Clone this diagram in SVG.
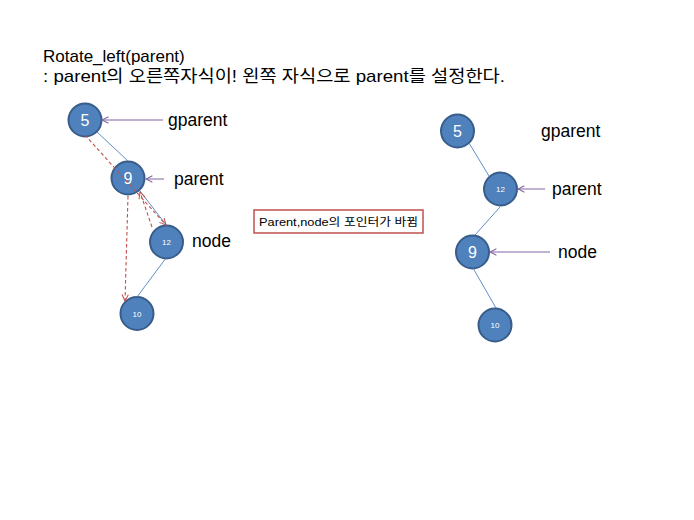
<svg xmlns="http://www.w3.org/2000/svg" width="694" height="520" viewBox="0 0 694 520">
<defs>
<marker id="ap" viewBox="0 0 10 10" refX="9" refY="5" markerWidth="8" markerHeight="8" orient="auto" markerUnits="userSpaceOnUse"><path d="M1,1 L9,5 L1,9" fill="none" stroke="#8064A2" stroke-width="1.3"/></marker>
<marker id="ar" viewBox="0 0 10 10" refX="9" refY="5" markerWidth="8" markerHeight="8" orient="auto" markerUnits="userSpaceOnUse"><path d="M1,1 L9,5 L1,9" fill="none" stroke="#C0504D" stroke-width="1.3"/></marker>
<style>
.n{fill:#4F81BD;stroke:#385D8A;stroke-width:2}
.nt{fill:#fff;font-family:"Liberation Sans","Noto Sans CJK KR",sans-serif;text-anchor:middle}
.big{font-size:16px}
.sm{font-size:8px}
.lb{font-family:"Liberation Sans","Noto Sans CJK KR",sans-serif;font-size:17.5px;fill:#000}
.e{stroke:#4F81BD;stroke-width:0.9;fill:none}
.p{stroke:#8064A2;stroke-width:1;fill:none;marker-end:url(#ap)}
.r{stroke:#C0504D;stroke-width:1.1;stroke-dasharray:3.5,2.5;fill:none;marker-end:url(#ar)}
</style>
</defs>
<rect width="694" height="520" fill="#fff"/>
<g id="title" class="lb" style="font-size:17px">
<text x="43" y="62">Rotate_left(parent)</text>
<text x="43" y="82" textLength="462" lengthAdjust="spacingAndGlyphs">: parent의 오른쪽자식이! 왼쪽 자식으로 parent를 설정한다.</text>
</g>
<g id="L5"><circle class="n" cx="85" cy="120" r="16.5"/><text class="nt big" x="85" y="126">5</text></g>
<g id="L9"><circle class="n" cx="128" cy="178" r="16.5"/><text class="nt big" x="128" y="184">9</text></g>
<g id="L12"><circle class="n" cx="166.5" cy="242" r="16.5"/><text class="nt sm" x="166.5" y="245">12</text></g>
<g id="L10"><circle class="n" cx="137" cy="313.5" r="16.5"/><text class="nt sm" x="137" y="316.5">10</text></g>
<g id="Llabels" class="lb">
<text x="168" y="126">gparent</text>
<text x="174" y="185">parent</text>
<text x="192" y="247">node</text>
</g>
<g id="note">
<rect x="254" y="210" width="169" height="23" fill="#fff" stroke="#C0504D" stroke-width="1.5"/>
<text x="259" y="226" font-family="Liberation Sans, Noto Sans CJK KR, sans-serif" font-size="11.5" textLength="159" lengthAdjust="spacingAndGlyphs">Parent,node의 포인터가 바뀜</text>
</g>
<g id="R5"><circle class="n" cx="457.5" cy="131" r="16.5"/><text class="nt big" x="457.5" y="137">5</text></g>
<g id="R12"><circle class="n" cx="500.5" cy="189" r="16.5"/><text class="nt sm" x="500.5" y="192">12</text></g>
<g id="R9"><circle class="n" cx="472.5" cy="252" r="16.5"/><text class="nt big" x="472.5" y="258">9</text></g>
<g id="R10"><circle class="n" cx="495" cy="325" r="16.5"/><text class="nt sm" x="495" y="328">10</text></g>
<g id="Rlabels" class="lb">
<text x="541" y="137">gparent</text>
<text x="552" y="195">parent</text>
<text x="558" y="258">node</text>
</g>
<g id="connectors">
<line class="e" x1="97" y1="132" x2="128" y2="161"/>
<line class="e" x1="140" y1="191" x2="167" y2="226"/>
<line class="e" x1="166" y1="258" x2="137" y2="297"/>
<line class="p" x1="163" y1="120" x2="102" y2="120"/>
<line class="p" x1="164" y1="179" x2="146" y2="179"/>
<line class="r" x1="85" y1="135" x2="166" y2="225"/>
<line class="r" x1="152" y1="227" x2="140" y2="192"/>
<line class="r" x1="128" y1="196" x2="125" y2="301"/>
<line class="e" x1="469" y1="143" x2="489" y2="176"/>
<line class="e" x1="500" y1="207" x2="475" y2="235"/>
<line class="e" x1="473" y1="268" x2="496" y2="308"/>
<line class="p" x1="545" y1="189" x2="518" y2="189"/>
<line class="p" x1="550" y1="252" x2="490" y2="252"/>
</g>
</svg>
